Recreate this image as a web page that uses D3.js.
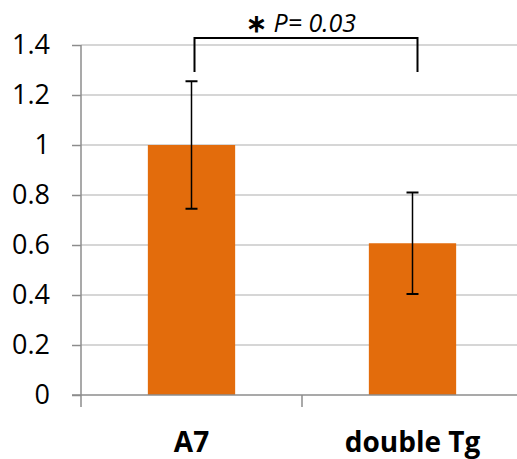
<!DOCTYPE html>
<html>
<head>
<meta charset="utf-8">
<script src="https://cdn.jsdelivr.net/npm/d3@7"></script>
<style>
  body { margin: 0; background: #fff; }
  svg { display: block; }
</style>
</head>
<body>
<svg width="517" height="459"></svg>
<script>
// data
var categories = ["A7", "double Tg"];
var values = [1.0, 0.607];
var errors = [0.255, 0.203];
var yTicks = [0, 0.2, 0.4, 0.6, 0.8, 1, 1.2, 1.4];
var pLabel = "P= 0.03";

var svg = d3.select("svg"),
    width = +svg.attr("width"),
    height = +svg.attr("height");

var plotLeft = 81, plotTop = 45, plotBottom = 395;
var bandW = 221;

var x = d3.scaleBand()
    .domain(categories)
    .range([plotLeft, plotLeft + bandW * categories.length])
    .paddingInner(0.605)
    .paddingOuter(0.3025);

var y = d3.scaleLinear()
    .domain([0, 1.4])
    .range([plotBottom, plotTop]);

var font = "'Open Sans', Lato, sans-serif";

// gridlines
svg.append("g")
    .selectAll("line")
    .data(yTicks.slice(1))
    .enter().append("line")
    .attr("x1", plotLeft).attr("x2", width)
    .attr("y1", function(d) { return y(d); })
    .attr("y2", function(d) { return y(d); })
    .style("stroke", "#c8c8c8")
    .style("stroke-width", 1.5);

// y axis
var yAxis = d3.axisLeft(y)
    .tickValues(yTicks)
    .tickSize(9)
    .tickPadding(22)
    .tickFormat(function(d) { return d3.format("")(d); });

var gy = svg.append("g")
    .attr("transform", "translate(" + plotLeft + ",0)")
    .call(yAxis);
gy.select(".domain").remove();
gy.selectAll(".tick line").style("stroke", "#8c8c8c").style("stroke-width", 1.5);
gy.selectAll("text")
    .style("font-family", font)
    .style("font-size", "27px")
    .style("fill", "#000");

// bars
svg.selectAll(".bar")
    .data(values)
    .enter().append("rect")
    .attr("class", "bar")
    .attr("x", function(d, i) { return x(categories[i]); })
    .attr("width", x.bandwidth())
    .attr("y", function(d) { return y(d); })
    .attr("height", function(d) { return plotBottom - y(d); })
    .attr("fill", "#e36c0c");

// axis lines
svg.append("line")
    .attr("x1", plotLeft).attr("x2", plotLeft)
    .attr("y1", plotTop).attr("y2", plotBottom + 12)
    .style("stroke", "#8c8c8c").style("stroke-width", 1.5);
svg.append("line")
    .attr("x1", plotLeft - 9).attr("x2", width)
    .attr("y1", plotBottom).attr("y2", plotBottom)
    .style("stroke", "#8c8c8c").style("stroke-width", 1.5);

// category ticks between bands
svg.selectAll(".ctick")
    .data(d3.range(1, categories.length + 1))
    .enter().append("line")
    .attr("x1", function(i) { return plotLeft + bandW * i; })
    .attr("x2", function(i) { return plotLeft + bandW * i; })
    .attr("y1", plotBottom).attr("y2", plotBottom + 12)
    .style("stroke", "#8c8c8c").style("stroke-width", 1.5);

// x labels
svg.selectAll(".xlab")
    .data(categories)
    .enter().append("text")
    .attr("x", function(d) { return x(d) + x.bandwidth() / 2; })
    .attr("y", 452)
    .attr("text-anchor", "middle")
    .style("font-family", font)
    .style("font-weight", "bold")
    .style("font-size", "28px")
    .text(function(d) { return d; });

// error bars
var eb = svg.selectAll(".err")
    .data(values)
    .enter().append("g")
    .attr("transform", function(d, i) {
        return "translate(" + (x(categories[i]) + x.bandwidth() / 2) + ",0)";
    });
eb.append("line")
    .attr("y1", function(d, i) { return y(d + errors[i]); })
    .attr("y2", function(d, i) { return y(d - errors[i]); })
    .style("stroke", "#000").style("stroke-width", 1.5);
eb.append("line")
    .attr("x1", -6).attr("x2", 6)
    .attr("y1", function(d, i) { return y(d + errors[i]); })
    .attr("y2", function(d, i) { return y(d + errors[i]); })
    .style("stroke", "#000").style("stroke-width", 2);
eb.append("line")
    .attr("x1", -6).attr("x2", 6)
    .attr("y1", function(d, i) { return y(d - errors[i]); })
    .attr("y2", function(d, i) { return y(d - errors[i]); })
    .style("stroke", "#000").style("stroke-width", 2);

// significance bracket
var bx1 = x(categories[0]) + x.bandwidth() / 2 + 3,
    bx2 = x(categories[1]) + x.bandwidth() / 2 + 5,
    by = 38, bEnd = 72;
svg.append("path")
    .attr("d", "M" + bx1 + "," + bEnd + "V" + by + "H" + bx2 + "V" + bEnd)
    .attr("fill", "none")
    .style("stroke", "#000").style("stroke-width", 2);

var sig = svg.append("text")
    .attr("x", 246).attr("y", 32)
    .style("font-family", font)
    .style("font-size", "25px");
sig.append("tspan").style("font-weight", "bold").text("\u2217 ");
sig.append("tspan").style("font-style", "italic").text(pLabel);
</script>
</body>
</html>
